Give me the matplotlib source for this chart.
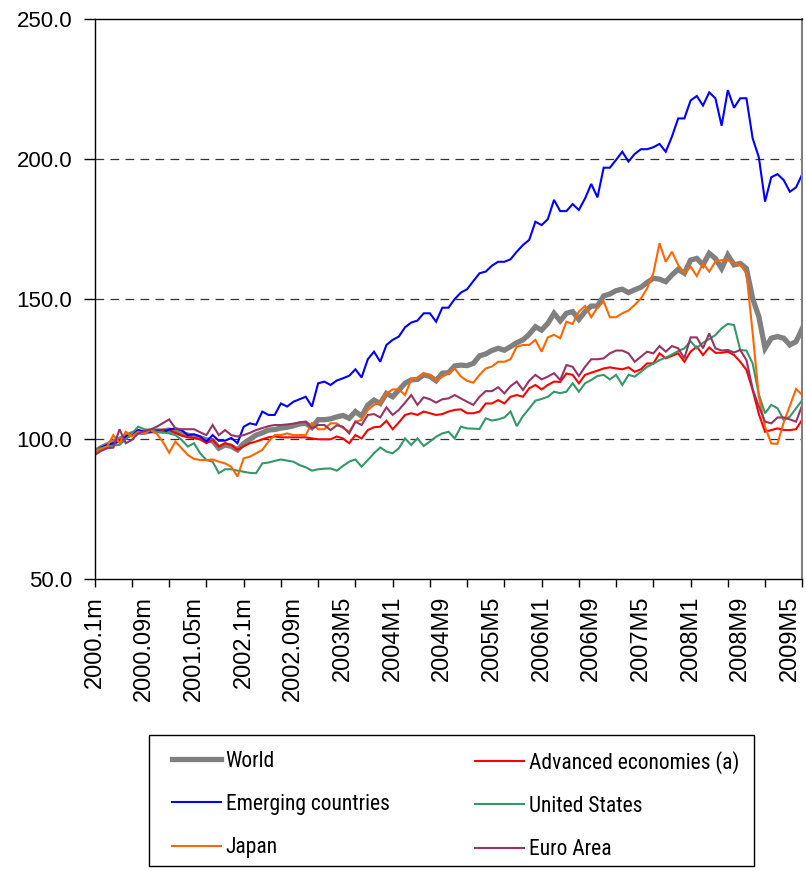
import matplotlib
matplotlib.use("Agg")
import matplotlib.pyplot as plt
from matplotlib import font_manager
from matplotlib.font_manager import FontProperties
from matplotlib.lines import Line2D
from matplotlib.patches import Rectangle

# ---------------- data ----------------
tick_labels = ["2000.1m", "2000.09m", "2001.05m", "2002.1m", "2002.09m", "2003M5",
               "2004M1", "2004M9", "2005M5", "2006M1", "2006M9", "2007M5",
               "2008M1", "2008M9", "2009M5"]

world = [95.5, 97, 98, 99, 100, 101, 102, 102.5, 102.5, 103, 103, 103, 103.3,
         102.8, 102.1, 101.5, 101, 100.5, 99.8, 99.5, 96.8, 98, 97.5, 96.2, 98.5,
         100, 101.5, 102.3, 103.3, 103.5, 104, 104.3, 104.8, 105.5, 105.7, 104.2,
         107, 107, 107.3, 108, 108.5, 107.5, 109.9, 108.3, 112.2, 114, 112.8, 116.4,
         115.2, 117.6, 120, 121.2, 121.4, 123, 122.5, 120.9, 123.6, 123.8, 126.2,
         126.5, 126.3, 127.1, 129.8, 130.5, 131.7, 132.5, 131.8, 133.1, 134.5, 135.5,
         137.5, 140.2, 139, 141.4, 145, 142.3, 145, 145.6, 142.8, 145.6, 147.6, 147.6,
         151.2, 151.9, 153.1, 153.6, 152.4, 153.4, 154.3, 156, 157.5, 157.2, 156.3,
         158.7, 160.7, 159.3, 164, 164.6, 162.3, 166.4, 164.6, 161, 165.8, 162.3,
         162.8, 161, 150.3, 143.8, 132.5, 136.1, 136.7, 136.1, 133.7, 134.9, 139.6]

advanced = [96, 96.7, 97.4, 98.6, 99.8, 100.5, 101.5, 102.7, 102.7, 103, 103.3, 103.3,
            103.3, 102.3, 101.3, 100.7, 100.5, 100, 98.6, 99.8, 97.4, 98.6, 98, 96.2,
            97.5, 98.6, 99.2, 100, 100.7, 101, 100.7, 100.7, 100.7, 100.7, 100.7, 100.3,
            100, 100, 100, 101, 100.3, 98.6, 101.5, 100.3, 103.3, 104.3, 104.5, 106.6,
            103.6, 106, 108.7, 109.3, 108.7, 109.9, 109.3, 108.7, 109, 109.9, 110.5,
            110.7, 109.3, 109.3, 109.9, 112.8, 112.8, 114, 112.8, 115.2, 115.8, 115.2,
            118.2, 119.4, 117.8, 119.4, 120.6, 120.5, 123.5, 123, 120, 123, 123.8, 124.5,
            125.3, 125.7, 125.3, 125, 125.7, 124.1, 125, 127.1, 127.1, 130.7, 128.9,
            129.8, 130.7, 127.7, 131.3, 133.1, 130.1, 132.8, 130.9, 130.9, 131.3, 130.1,
            127.7, 124.8, 117.6, 109, 102.7, 103.3, 103.9, 103.3, 103.3, 103.6, 107.1]

emerging = [95.6, 97, 98, 98.5, 99.2, 101, 102, 103.3, 102.7, 102.7, 103, 102.5, 103.5,
            103.9, 103.3, 101.5, 101.8, 101, 99.2, 101.5, 99.5, 99.5, 100.5, 98.6, 104.5,
            105.7, 105.2, 109.9, 108.7, 108.7, 112.8, 111.7, 113.4, 114.3, 115.2, 111.7,
            120, 120.6, 119.4, 121, 121.8, 122.7, 125, 122.1, 128.6, 131.3, 127.7, 133.7,
            135.5, 136.7, 140, 141.7, 142.4, 145, 145, 142, 147, 147, 150.1, 152.4, 153.6,
            156.5, 159.3, 159.9, 162, 163.4, 163.4, 164.3, 167, 169.4, 171.2, 177.7,
            176.5, 178.6, 185.5, 181.5, 181.5, 184, 181.9, 186, 191.2, 186.4, 197, 197,
            199.8, 202.7, 199.2, 201.9, 203.6, 203.6, 204.3, 205.5, 202.7, 208.1, 214.6,
            214.6, 221, 222.6, 219.2, 223.9, 221.8, 212, 224.7, 218.4, 221.8, 221.8,
            207.5, 200.7, 184.9, 193.6, 194.7, 192.6, 188.4, 190, 194.7]

united_states = [96.2, 96.8, 97.4, 97.8, 98, 100, 102.1, 104.5, 103.6, 103.3, 102.7,
                 102.5, 102.1, 101.5, 99.8, 97.4, 98.6, 95, 92.6, 92, 87.9, 89.3, 89.3,
                 88.8, 88.4, 88, 87.9, 91.4, 91.7, 92.3, 92.8, 92.4, 92, 90.8, 90, 88.8,
                 89.3, 89.5, 89.6, 88.8, 90.5, 92, 92.8, 90.2, 92.6, 95, 97.1, 95.6, 95,
                 96.8, 100.3, 98, 100.3, 97.6, 99.2, 100.9, 102.1, 102.7, 100.3, 104.5,
                 103.9, 103.8, 103.7, 107.5, 106.7, 107.1, 107.8, 109.9, 104.7, 108.3,
                 111, 113.8, 114.4, 115.2, 117, 116.5, 117, 120, 117, 120, 121.2, 122.6,
                 123, 121.4, 123, 119.4, 123, 122.4, 124.1, 125.9, 127, 128.3, 129.2,
                 130.3, 131.5, 132.5, 135, 132.5, 134.5, 135.8, 137.2, 139.6, 141.2,
                 140.8, 131.9, 131.7, 127.1, 116, 109.3, 112.3, 111.1, 106.9, 108.1,
                 111.1, 114]

japan = [95.6, 96.5, 97.4, 101.5, 98.6, 102.7, 101, 102.7, 102.1, 103.3, 102, 99, 95.2,
         99.2, 96.8, 94.4, 93, 92.6, 92.6, 92.8, 92, 91.4, 90.2, 86.7, 93.2, 93.8, 95,
         96.2, 99.2, 101.5, 101.5, 102.1, 101.5, 101.5, 101.5, 105.7, 103.6, 103.6,
         105.7, 105.7, 104, 102.7, 106.3, 106.9, 110.5, 112.3, 113.1, 116.4, 117.8,
         117.8, 115.8, 121.4, 121.8, 123.6, 123, 120.9, 122.4, 123.6, 125.3, 122.4,
         120.9, 120.2, 123, 125.3, 126, 127.7, 127.7, 128.6, 133.1, 133.7, 133.7, 135.5,
         131.3, 136.4, 137.3, 136.1, 142, 141.2, 145.6, 147.6, 143.6, 147.1, 149.2,
         143.6, 143.6, 145, 146, 148, 150.3, 153.9, 159.3, 170, 163.4, 167, 162.3,
         159.3, 161.7, 158.3, 162.8, 159.9, 163.4, 164, 164, 162.8, 162.3, 159.3, 138,
         115.2, 104.5, 98.5, 98.4, 106, 112, 118, 115.8]

euro_area = [94.4, 95.8, 96.8, 97, 103.6, 98.6, 99.8, 102.1, 103, 103.5, 104.5, 105.8,
             107.1, 103.9, 103.6, 103.6, 103.6, 102.5, 101.5, 105.1, 101.5, 103.3, 101.5,
             101, 101.5, 102.3, 103.3, 104, 104.7, 105.1, 105.1, 105.3, 105.6, 106, 106.3,
             103.9, 105.1, 105.1, 103.3, 105, 104.5, 102.1, 106.3, 105.1, 108.7, 109,
             107.8, 111.4, 108.7, 110.5, 113.1, 115.8, 112.3, 115, 114.3, 113.1, 114.3,
             114.6, 115.8, 114.6, 113.4, 112.3, 115.2, 117.2, 117.2, 118.6, 116.4, 119,
             120.6, 117.6, 120.9, 123, 121.4, 122.4, 123.6, 121.2, 126.5, 125.9, 122.6,
             125.9, 128.6, 128.6, 128.9, 130.7, 131.7, 131.7, 130.7, 127.7, 129.5, 131.3,
             130.7, 133.3, 131.3, 133.3, 132.5, 128.9, 136.4, 136.4, 132.5, 137.8, 132.5,
             131.7, 131.9, 131, 131.9, 128.3, 118, 111.7, 106.3, 105.7, 107.8, 107.8,
             107.1, 106.3, 112.3]

series_names = ["World", "Advanced economies (a)", "Emerging countries",
                "United States", "Japan", "Euro Area"]

# ---------------- fonts ----------------
ttf = font_manager.fontManager.ttflist
available = {f.name for f in ttf}
main_font = "Liberation Sans" if "Liberation Sans" in available else "DejaVu Sans"

legend_prop = None
if "Liberation Sans Narrow" in available:
    legend_prop = FontProperties(family="Liberation Sans Narrow", size=16)
else:
    for fam in ["Liberation Sans", "Roboto Condensed", "Roboto", "Open Sans", "DejaVu Sans"]:
        if any(f.name == fam and f.stretch in ("condensed", "semi-condensed")
               for f in ttf if isinstance(f.stretch, str)):
            legend_prop = FontProperties(family=fam, stretch="condensed", size=15.5)
            break
if legend_prop is None:
    legend_prop = FontProperties(family=main_font, size=13.5)

# ---------------- figure ----------------
colors = ["#808080", "#FF0000", "#0000FF", "#339966", "#FF6600", "#993366"]
widths = [3.8, 1.5, 1.5, 1.5, 1.5, 1.5]

W, H = 806, 871
fig = plt.figure(figsize=(W / 100, H / 100), dpi=100)
ax_l, ax_r, ax_t, ax_b = 94.7, 802.3, 19.3, 579.3
ax = fig.add_axes([ax_l / W, 1 - ax_b / H, (ax_r - ax_l) / W, (ax_b - ax_t) / H])

all_series = [world, advanced, emerging, united_states, japan, euro_area]
x = list(range(len(world)))
for ser, c, lw, name in zip(all_series, colors, widths, series_names):
    ax.plot(x[:len(ser)], ser, color=c, lw=lw, label=name, solid_joinstyle="miter")

ax.set_xlim(0, len(world) - 1)
ax.set_ylim(50, 250)

# y axis
ax.set_yticks([50, 100, 150, 200, 250])
ax.set_yticklabels([f"{v:.1f}" for v in [50, 100, 150, 200, 250]])
for yv in [100, 150, 200]:
    ax.axhline(yv, color="#333333", lw=0.9, dashes=(7, 5), zorder=0.5)

# x axis: tick marks every 6 months, labels every 8 months
ax.xaxis.remove_overlapping_locs = False
ax.set_xticks(list(range(0, len(world), 6)))
ax.set_xticklabels([])
ax.set_xticks(list(range(0, 8 * len(tick_labels), 8)), minor=True)
ax.set_xticklabels(tick_labels, minor=True, rotation=90, va="top", ha="center")

ax.tick_params(axis="x", which="major", direction="out", length=6, width=1, color="black")
ax.tick_params(axis="x", which="minor", length=0, pad=12, labelsize=17)
ax.tick_params(axis="y", direction="out", length=8, width=1, pad=8, labelsize=16)
for lab in ax.get_xticklabels(minor=True) + ax.get_yticklabels():
    lab.set_family(main_font)

for s in ["left", "bottom", "top"]:
    ax.spines[s].set_color("black")
    ax.spines[s].set_linewidth(1.0)
ax.spines["right"].set_color("#808080")
ax.spines["right"].set_linewidth(1.5)

# ---------------- legend ----------------
box = Rectangle((149 / W, 1 - 866 / H), (754 - 149) / W, (866 - 735) / H,
                transform=fig.transFigure, fill=False, edgecolor="black", lw=1.0)
fig.patches.append(box)

fs_px = legend_prop.get_size_in_points() * 100 / 72
row_h = 0.96 * fs_px
lab_sp = (43 - row_h) / fs_px
top_y = 761 - row_h / 2
handles = [Line2D([0], [0], color=c, lw=lw) for c, lw in zip(colors, widths)]
col_x = [171.7, 475]
for col in range(2):
    idx = [col, col + 2, col + 4]
    fig.legend([handles[i] for i in idx], [series_names[i] for i in idx], ncol=1,
               loc="upper left", bbox_to_anchor=(col_x[col] / W, 1 - top_y / H),
               frameon=False, prop=legend_prop,
               handlelength=49 / fs_px, handletextpad=5 / fs_px,
               labelspacing=lab_sp, borderpad=0, borderaxespad=0)

fig.savefig("out.png", dpi=100, facecolor="white")
